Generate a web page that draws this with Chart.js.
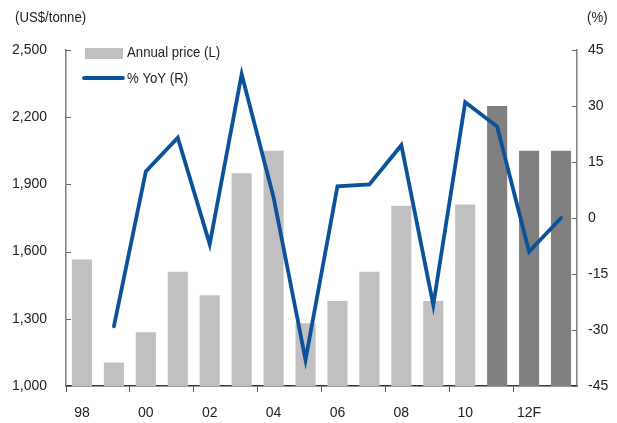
<!DOCTYPE html>
<html>
<head>
<meta charset="utf-8">
<script src="https://cdn.jsdelivr.net/npm/chart.js@4"></script>
<style>
  html, body { margin: 0; padding: 0; background: #fff; }
  #wrap { width: 617px; height: 423px; }
</style>
</head>
<body>
<div id="wrap"><canvas id="c" width="617" height="423"></canvas></div>
<script>
// data
const years = ["98", "99", "00", "01", "02", "03", "04", "05", "06", "07", "08", "09", "10", "11", "12F", "13F"];
const annualPrice = [1565, 1105, 1240, 1510, 1405, 1950, 2050, 1280, 1380, 1510, 1805, 1380, 1810, 2250, 2050, 2050];
const yoy = [null, -29, 12.5, 21.5, -7, 38.5, 5.5, -38, 8.5, 9, 19.5, -23.3, 31, 24.5, -9, 0];
const leftTicks = [1000, 1300, 1600, 1900, 2200, 2500];
const rightTicks = [-45, -30, -15, 0, 15, 30, 45];
const firstForecast = 13;

const FONT = "'Liberation Sans', Arial, sans-serif";
const BLUE = "#0b529b";

// narrow-looking text, like the original
function narrowText(c, txt, x, y) {
    c.save();
    c.translate(x, y);
    c.scale(0.88, 1);
    c.fillText(txt, 0, 0);
    c.restore();
}

// inward tick marks, axis units and the legend
const extras = {
    id: "extras",
    afterDraw(chart) {
        const c = chart.ctx;
        const a = chart.chartArea;
        const yl = chart.scales.y;
        const yr = chart.scales.y1;
        c.save();
        c.strokeStyle = "#666";
        c.lineWidth = 1;
        leftTicks.forEach(v => {
            const py = Math.round(yl.getPixelForValue(v)) + 0.5;
            c.beginPath(); c.moveTo(a.left, py); c.lineTo(a.left + 5, py); c.stroke();
        });
        rightTicks.forEach(v => {
            const py = Math.round(yr.getPixelForValue(v)) + 0.5;
            c.beginPath(); c.moveTo(a.right - 5, py); c.lineTo(a.right, py); c.stroke();
        });

        c.fillStyle = "#222";
        c.font = "15px " + FONT;
        c.textBaseline = "middle";
        c.textAlign = "left";
        narrowText(c, "(US$/tonne)", 15, 18);
        narrowText(c, "(%)", 587, 18);

        // legend
        c.fillStyle = "#c0c0c0";
        c.fillRect(85, 48, 38, 11);
        c.strokeStyle = BLUE;
        c.lineWidth = 3.8;
        c.lineCap = "round";
        c.beginPath(); c.moveTo(84, 78); c.lineTo(123, 78); c.stroke();
        c.fillStyle = "#222";
        narrowText(c, "Annual price (L)", 127, 53);
        narrowText(c, "% YoY (R)", 127, 79);
        c.restore();
    }
};

new Chart(document.getElementById("c"), {
    data: {
        labels: years,
        datasets: [
            {
                type: "line",
                label: "% YoY (R)",
                data: yoy,
                yAxisID: "y1",
                borderColor: BLUE,
                borderWidth: 3.8,
                borderCapStyle: "round",
                borderJoinStyle: "miter",
                pointRadius: 0,
                tension: 0,
                order: 0
            },
            {
                type: "bar",
                label: "Annual price (L)",
                data: annualPrice,
                yAxisID: "y",
                backgroundColor: ctx => ctx.index >= firstForecast ? "#808080" : "#c0c0c0",
                barPercentage: 0.63,
                categoryPercentage: 1,
                order: 1
            }
        ]
    },
    options: {
        responsive: false,
        animation: false,
        layout: { padding: { top: 50, left: 0, right: 0, bottom: 0 } },
        plugins: { legend: { display: false }, tooltip: { enabled: false } },
        scales: {
            x: {
                offset: true,
                afterFit: s => { s.height = 37; },
                border: { display: true, color: "#333", width: 1.5 },
                grid: {
                    offset: true,
                    drawOnChartArea: false,
                    drawTicks: true,
                    tickLength: 6,
                    color: ctx => ctx.index % 2 === 0 ? "#555" : "rgba(0,0,0,0)"
                },
                ticks: {
                    autoSkip: false,
                    maxRotation: 0,
                    padding: 13,
                    color: "#222",
                    font: { family: FONT, size: 14 },
                    callback: (v, i) => i % 2 === 0 ? years[i] : ""
                }
            },
            y: {
                position: "left",
                min: 1000,
                max: 2500,
                afterFit: s => { s.width = 66; },
                afterBuildTicks: s => { s.ticks = leftTicks.map(v => ({ value: v })); },
                border: { display: true, color: "#808080", width: 1.5 },
                grid: { display: false, drawTicks: false },
                ticks: {
                    padding: 19,
                    color: "#222",
                    font: { family: FONT, size: 14 },
                    callback: v => v.toLocaleString("en-US")
                }
            },
            y1: {
                position: "right",
                min: -45,
                max: 45,
                afterFit: s => { s.width = 40; },
                afterBuildTicks: s => { s.ticks = rightTicks.map(v => ({ value: v })); },
                border: { display: true, color: "#808080", width: 1.5 },
                grid: { display: false, drawTicks: false },
                ticks: {
                    padding: 11,
                    color: "#222",
                    font: { family: FONT, size: 14 }
                }
            }
        }
    },
    plugins: [extras]
});
</script>
</body>
</html>
